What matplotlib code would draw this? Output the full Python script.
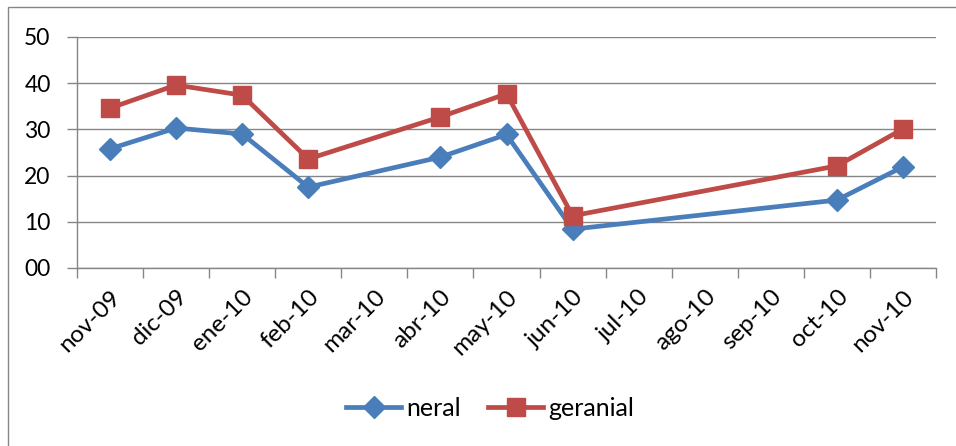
import numpy as np
import matplotlib
matplotlib.use("Agg")
import matplotlib.pyplot as plt
from matplotlib.patches import Rectangle

plt.rcParams['font.family'] = ['Lato', 'DejaVu Sans']

months = ["nov-09", "dic-09", "ene-10", "feb-10", "mar-10", "abr-10", "may-10",
          "jun-10", "jul-10", "ago-10", "sep-10", "oct-10", "nov-10"]
neral = [25.8, 30.3, 29.0, 17.5, None, 24.0, 28.9, 8.4, None, None, None, 14.7, 21.9]
geranial = [34.6, 39.6, 37.4, 23.6, None, 32.7, 37.7, 11.3, None, None, None, 22.1, 30.1]
yticks = [0, 10, 20, 30, 40, 50]

fig = plt.figure(figsize=(9.56, 4.46), dpi=100)
fig.patches.append(Rectangle((8/956, -0.1), 1.2, (446-7)/446 + 0.1, transform=fig.transFigure,
                             fill=False, edgecolor='#868686', linewidth=1.0))
ax = fig.add_axes([77/956, (446-268)/446, (936-77)/956, (268-37)/446])

x = np.arange(len(months))

def pts(vals):
    xs = [i for i, v in zip(x, vals) if v is not None]
    ys = [v for v in vals if v is not None]
    return xs, ys

xs, ys = pts(neral)
ax.plot(xs, ys, color='#4A7EBB', linewidth=3.4, marker='D', markersize=11.5,
        label='neral', zorder=3)
xs, ys = pts(geranial)
ax.plot(xs, ys, color='#BE4B48', linewidth=3.4, marker='s', markersize=13.5,
        label='geranial', zorder=4)

ax.set_xlim(-0.5, len(months) - 0.5)
ax.set_ylim(0, 50)
ax.set_yticks(yticks)
ax.set_yticklabels([f"{v:02d}" for v in yticks], fontsize=16.5)
ax.yaxis.grid(True, color='#868686', linewidth=1.0)
ax.set_axisbelow(True)

ax.set_xticks(x)
ax.set_xticklabels(months, rotation=45, ha='right', rotation_mode='anchor', fontsize=17.5)
ax.set_xticks(np.arange(-0.5, len(months)), minor=True)
ax.tick_params(axis='x', which='major', length=0, pad=13)
ax.tick_params(axis='x', which='minor', length=7, color='#868686', width=1.0)
ax.tick_params(axis='y', length=7, color='#868686', width=1.0, pad=12)

for s in ['top', 'right']:
    ax.spines[s].set_visible(False)
for s in ['left', 'bottom']:
    ax.spines[s].set_color('#868686')
    ax.spines[s].set_linewidth(1.0)

ax.legend(loc='center', bbox_to_anchor=(490/956, (446-408)/446), bbox_transform=fig.transFigure,
          ncol=2, frameon=False, fontsize=18, handlelength=2.2, columnspacing=1.1,
          handletextpad=0.2)

fig.savefig('out.png', dpi=100)
